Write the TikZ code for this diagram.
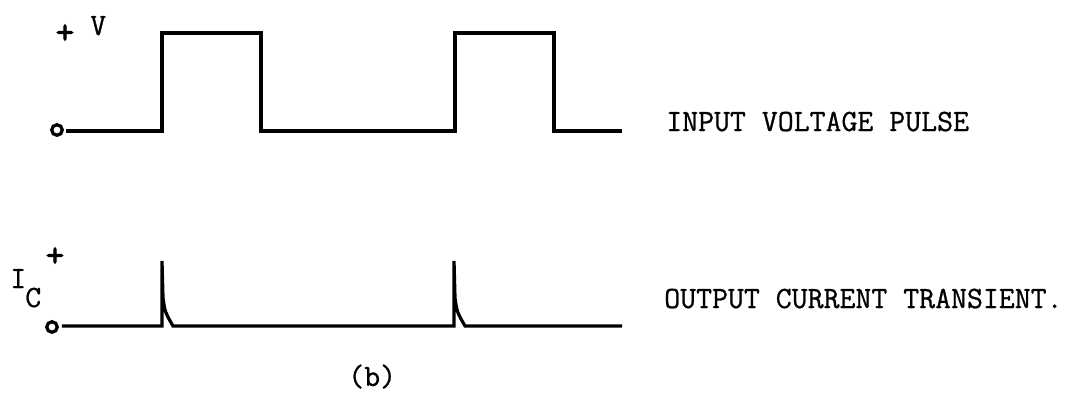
\documentclass[tikz,border=0pt]{standalone}
\usepackage{fontspec}
\newfontfamily\tw{Latin Modern Mono}[FakeBold=0.8]
\newfontfamily\twb{Latin Modern Mono}[FakeBold=3]
\begin{document}
\begin{tikzpicture}[x=0.025cm,y=-0.025cm,
  wave/.style={line width=2.3pt,line join=miter},
  term/.style={circle,draw,line width=2.3pt,inner sep=0pt,minimum size=7.5pt},
  lbl/.style={inner sep=0pt,anchor=base west,font=\fontsize{22}{24}\selectfont\tw},
  plus/.style={inner sep=0pt,anchor=center,font=\fontsize{25}{27}\selectfont\twb}]
\useasboundingbox (0,0) rectangle (1067,396);
% top waveform
\node[term] (t0) at (57,130) {};
\draw[wave] (t0.east) ++(2,1) -- (162,131) -- (162,33) -- (261,33) -- (261,131) -- (455,131) -- (455,33) -- (554,33) -- (554,131) -- (622,131);
\node[plus] (plusv) at (65,34) {+};
\node[lbl] (v) at (90,35) {V};
\node[lbl] (in) at (666,131) {INPUT VOLTAGE PULSE};
% bottom waveform
\node[term] (b0) at (52,327) {};
\draw[wave] (b0.east) ++(3,-1) -- (162,326) -- (162,261) -- (163,298) .. controls (165,312) .. (173,326) -- (454,326) -- (454,261) -- (455,298) .. controls (457,312) .. (465,326) -- (622,326);
\node[plus] (plusi) at (55,257) {+};
\node[lbl] (ic) at (10,288) {I};
\node[lbl] (c) at (25,307) {C};
\node[lbl] (out) at (664,308) {OUTPUT CURRENT TRANSIENT.};
\node[lbl] (b) at (348,386) {(b)};
\end{tikzpicture}
\end{document}
